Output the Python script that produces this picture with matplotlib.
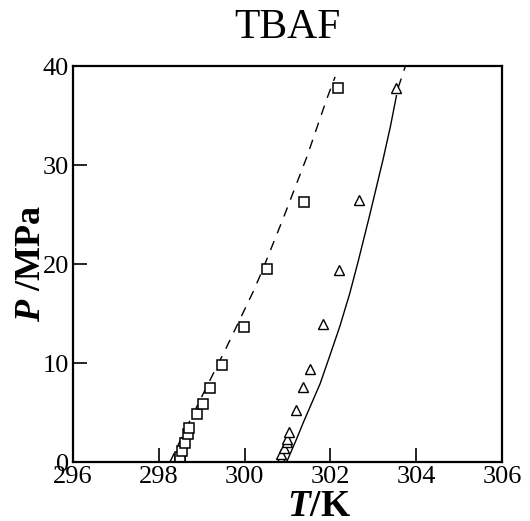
import numpy as np
import matplotlib.pyplot as plt

plt.rcParams['font.family'] = 'Liberation Serif'
plt.rcParams['mathtext.fontset'] = 'custom'
plt.rcParams['mathtext.bfit'] = 'Liberation Serif:bold:italic'
plt.rcParams['mathtext.it'] = 'Liberation Serif:italic'
plt.rcParams['mathtext.bf'] = 'Liberation Serif:bold'

# experimental points (squares)
t_sq = [298.49, 298.49, 298.49, 298.53, 298.61, 298.69, 298.71, 298.90,
        299.04, 299.19, 299.48, 299.99, 300.53, 301.38, 302.18]
p_sq = [0.05, 0.3, 0.55, 1.14, 1.95, 2.80, 3.40, 4.81,
        5.86, 7.44, 9.80, 13.67, 19.46, 26.3, 37.75]

# experimental points (triangles)
t_tri = [300.84, 300.86, 300.93, 300.98, 300.99, 301.04, 301.20, 301.37,
         301.52, 301.83, 302.20, 302.67, 303.54]
p_tri = [0.30, 0.78, 1.45, 1.99, 2.32, 3.0, 5.25, 7.6,
         9.39, 13.9, 19.4, 26.5, 37.8]

# model curves
t_dash = [298.26, 298.65, 299.04, 299.58, 300.20, 300.40, 300.90, 301.45, 301.91, 302.11]
p_dash = [0.0, 3.5, 6.94, 11.6, 17.2, 19.2, 24.6, 30.8, 36.6, 38.9]

t_solid = [300.98, 301.20, 301.37, 301.57, 301.76, 302.00, 302.22, 302.45,
           302.65, 302.92, 303.23, 303.40, 303.54]
p_solid = [0.0, 2.2, 4.0, 6.0, 7.9, 10.9, 13.7, 17.0,
           20.3, 25.0, 30.6, 33.9, 37.0]
t_top = [303.58, 303.75]
p_top = [37.8, 40.0]

fig = plt.figure(figsize=(5.30, 5.21), dpi=100)
ax = fig.add_axes([0.1377, 0.1132, 0.8094, 0.7601])

ax.plot(t_dash, p_dash, color='black', lw=1.0, ls=(0, (7, 6)))
ax.plot(t_solid, p_solid, color='black', lw=1.0)
ax.plot(t_top, p_top, color='black', lw=1.0, ls=(0, (7, 6)))
ax.plot(t_sq, p_sq, ls='none', marker='s', ms=6.5, mfc='white', mec='black', mew=1.1)
ax.plot(t_tri, p_tri, ls='none', marker='^', ms=7, mfc='white', mec='black', mew=1.0)

ax.set_xlim(296, 306)
ax.set_ylim(0, 40)
ax.set_xticks([296, 298, 300, 302, 304, 306])
ax.set_yticks([0, 10, 20, 30, 40])
ax.tick_params(direction='in', length=10, width=1.2, labelsize=19, pad=3,
               top=False, right=False)
for s in ax.spines.values():
    s.set_linewidth(1.6)

ax.set_xlabel(r'$\boldsymbol{T}$/K', fontsize=27, fontweight='bold')
ax.xaxis.set_label_coords(0.574, -0.067)
ax.set_ylabel(r'$\boldsymbol{P}$ /MPa', fontsize=26, fontweight='bold', labelpad=-4)
ax.set_title('TBAF', fontsize=30, pad=20)

fig.savefig('out.png', dpi=100)
